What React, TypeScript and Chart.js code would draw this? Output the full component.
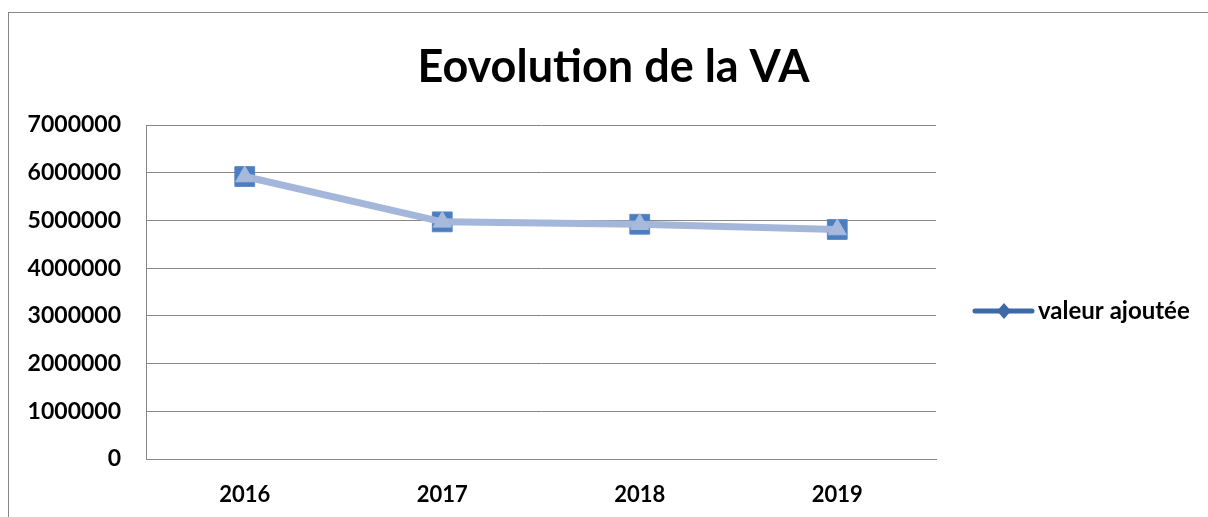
import React, { useEffect, useRef } from "react";
import { Chart, registerables } from "chart.js";

Chart.register(...registerables);

const categories = ["2016", "2017", "2018", "2019"];
const valeurAjoutee = [5920000, 4970000, 4920000, 4810000];
const seriesSquare = [5920000, 4970000, 4920000, 4810000];
const seriesTriangle = [5920000, 4970000, 4920000, 4810000];
const yTicks = [0, 1000000, 2000000, 3000000, 4000000, 5000000, 6000000, 7000000];
const titleText = "Eovolution de la VA";
const legendLabel = "valeur ajoutée";

const FONT = "Lato, 'Open Sans', sans-serif";
const GRID = "#868686";
const DIAMOND_COLOR = "#3D69A6";

const legendPlugin = {
  id: "customLegend",
  afterDraw(chart: any) {
    const ctx = chart.ctx;
    const area = chart.chartArea;
    const x0 = area.right + 39;
    const y = (area.top + area.bottom) / 2 + 19;
    ctx.save();
    ctx.strokeStyle = DIAMOND_COLOR;
    ctx.lineWidth = 5;
    ctx.lineCap = "round";
    ctx.beginPath();
    ctx.moveTo(x0, y);
    ctx.lineTo(x0 + 57, y);
    ctx.stroke();
    const cx = x0 + 29;
    ctx.fillStyle = DIAMOND_COLOR;
    ctx.beginPath();
    ctx.moveTo(cx, y - 8);
    ctx.lineTo(cx + 7, y);
    ctx.lineTo(cx, y + 8);
    ctx.lineTo(cx - 7, y);
    ctx.closePath();
    ctx.fill();
    ctx.fillStyle = "#000";
    ctx.font = `bold 24px ${FONT}`;
    ctx.textBaseline = "middle";
    ctx.textAlign = "left";
    ctx.fillText(legendLabel, x0 + 63, y);
    ctx.restore();
  },
};

export default function App() {
  const ref = useRef<HTMLCanvasElement>(null);
  useEffect(() => {
    if (!ref.current) return;
    const chart = new Chart(ref.current, {
      type: "line",
      data: {
        labels: categories,
        datasets: [
          {
            label: "triangle",
            data: seriesTriangle,
            borderColor: "#A4B6DA",
            borderWidth: 7,
            pointStyle: "triangle",
            pointRadius: 10.5,
            pointBackgroundColor: "#A8BADC",
            pointBorderColor: "#A8BADC",
            pointBorderWidth: 1,
            order: 1,
          },
          {
            label: "square",
            data: seriesSquare,
            borderColor: "#4F81BD",
            borderWidth: 5,
            pointStyle: "rect",
            pointRadius: 14,
            pointBackgroundColor: "#4A7EC0",
            pointBorderColor: "#5A88C4",
            pointBorderWidth: 1,
            order: 2,
          },
          {
            label: legendLabel,
            data: valeurAjoutee,
            borderColor: DIAMOND_COLOR,
            borderWidth: 5,
            pointStyle: "rectRot",
            pointRadius: 6,
            pointBorderWidth: 0,
            pointBackgroundColor: DIAMOND_COLOR,
            pointBorderColor: DIAMOND_COLOR,
            order: 3,
          },
        ],
      },
      options: {
        animation: false,
        responsive: true,
        maintainAspectRatio: false,
        layout: { padding: { left: 10, right: 0, top: 0, bottom: 0 } },
        plugins: {
          legend: { display: false },
          tooltip: { enabled: false },
          title: {
            display: true,
            text: titleText,
            color: "#000",
            font: { family: FONT, size: 45, weight: "bold", lineHeight: 1.2 },
            padding: { top: 27, bottom: 31 },
          },
        },
        scales: {
          x: {
            type: "category",
            offset: true,
            afterFit: (s: any) => {
              s.height = 58;
            },
            grid: { display: false, drawTicks: false },
            border: { display: true, color: GRID, width: 1 },
            ticks: {
              color: "#000",
              padding: 23,
              font: { family: FONT, size: 22, weight: "bold" },
            },
          },
          y: {
            min: 0,
            max: 7000000,
            afterBuildTicks: (s: any) => {
              s.ticks = yTicks.map((v) => ({ value: v }));
            },
            afterFit: (s: any) => {
              s.width = 127;
            },
            grid: { color: GRID, lineWidth: 1, drawTicks: false },
            border: { display: true, color: GRID, width: 1 },
            ticks: {
              color: "#000",
              padding: 25,
              font: { family: FONT, size: 23, weight: "bold" },
              callback: (v: any) => String(v),
            },
          },
          yR: {
            position: "right",
            display: true,
            min: 0,
            max: 1,
            grid: { display: false, drawTicks: false },
            border: { display: false },
            ticks: { display: false },
            afterFit: (s: any) => {
              s.width = 272;
            },
          },
        },
      },
      plugins: [legendPlugin],
    });
    return () => chart.destroy();
  }, []);
  return (
    <div
      style={{
        position: "fixed",
        left: 8,
        top: 12,
        width: 1200,
        height: 505,
        boxSizing: "border-box",
        borderTop: `1px solid ${GRID}`,
        borderLeft: `1px solid ${GRID}`,
        background: "#fff",
      }}
    >
      <canvas ref={ref} />
    </div>
  );
}
